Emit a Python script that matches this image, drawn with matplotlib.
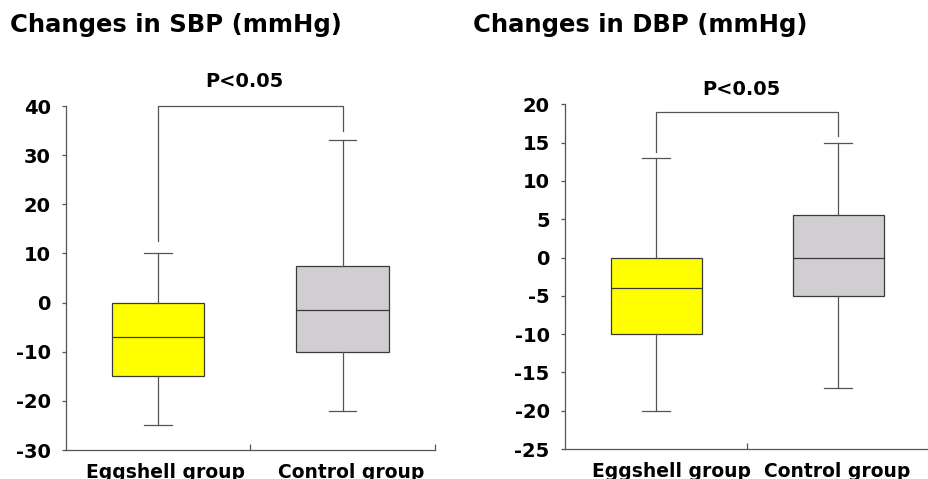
import matplotlib
matplotlib.use('Agg')
from matplotlib import pyplot as plt

plt.rcParams['font.family'] = ['DejaVu Sans']
plt.rcParams['font.weight'] = 'bold'
plt.rcParams['axes.unicode_minus'] = False

groups = ['Eggshell group', 'Control group']
box_colors = ['#ffff00', '#d0ced0']

# SBP: whisker low, Q1, median, Q3, whisker high
sbp_low = [-25, -22]
sbp_q1 = [-15, -10]
sbp_med = [-7, -1.5]
sbp_q3 = [0, 7.5]
sbp_high = [10, 33]
sbp_bracket = [12.5, 40, 35]   # left leg end, top, right leg end

# DBP
dbp_low = [-20, -17]
dbp_q1 = [-10, -5]
dbp_med = [-4, 0]
dbp_q3 = [0, 5.5]
dbp_high = [13, 15]
dbp_bracket = [13.8, 19, 15.9]


def draw_panel(ax, low, q1, med, q3, high, bracket, ylim, ystep, ptext_y, label_x):
    stats = []
    for i in range(len(groups)):
        stats.append({'whislo': low[i], 'q1': q1[i], 'med': med[i],
                      'q3': q3[i], 'whishi': high[i], 'fliers': [],
                      'label': groups[i]})
    bp = ax.bxp(stats, positions=[0.5, 1.5], widths=0.5, patch_artist=True,
                showfliers=False,
                boxprops=dict(edgecolor='#3a3a3a', linewidth=0.9),
                medianprops=dict(color='#3a3a3a', linewidth=0.9),
                whiskerprops=dict(color='#555555', linewidth=0.9),
                capprops=dict(color='#555555', linewidth=0.9),
                capwidths=0.15)
    for patch, c in zip(bp['boxes'], box_colors):
        patch.set_facecolor(c)

    # significance bracket
    ax.plot([0.5, 0.5, 1.5, 1.5], [bracket[0], bracket[1], bracket[1], bracket[2]],
            color='#555555', linewidth=0.9, clip_on=False)
    ax.text(0.97, ptext_y, 'P<0.05', ha='center', va='center',
            fontsize=14, fontweight='bold')

    ax.set_xlim(0, 2)
    ax.set_ylim(*ylim)
    ax.set_yticks(range(ylim[0], ylim[1] + 1, ystep))
    ax.set_xticks(label_x)
    ax.set_xticklabels(groups, fontsize=13.5, fontweight='bold')
    ax.set_xticks([1, 2], minor=True)
    ax.tick_params(axis='x', which='major', length=0, pad=9)
    ax.tick_params(axis='x', which='minor', direction='in', length=4,
                   color='#555555', width=0.9)
    ax.tick_params(axis='y', direction='out', length=3, color='#555555',
                   width=0.9, labelsize=14, pad=8)
    for lbl in ax.get_yticklabels():
        lbl.set_fontweight('bold')
    for s in ['top', 'right']:
        ax.spines[s].set_visible(False)
    for s in ['left', 'bottom']:
        ax.spines[s].set_color('#555555')
        ax.spines[s].set_linewidth(0.9)


fig = plt.figure(figsize=(9.29, 4.79), dpi=100)
ax1 = fig.add_axes([0.0710, 0.0605, 0.397, 0.718])
ax2 = fig.add_axes([0.6082, 0.0626, 0.392, 0.7196])

draw_panel(ax1, sbp_low, sbp_q1, sbp_med, sbp_q3, sbp_high, sbp_bracket,
           (-30, 40), 10, 45, [0.54, 1.545])
draw_panel(ax2, dbp_low, dbp_q1, dbp_med, dbp_q3, dbp_high, dbp_bracket,
           (-25, 20), 5, 22, [0.585, 1.495])

fig.text(0.0108, 0.948, 'Changes in SBP (mmHg)', fontsize=17.5,
         fontweight='bold', va='center', ha='left')
fig.text(0.509, 0.948, 'Changes in DBP (mmHg)', fontsize=17.5,
         fontweight='bold', va='center', ha='left')

fig.savefig('out.png', dpi=100)
